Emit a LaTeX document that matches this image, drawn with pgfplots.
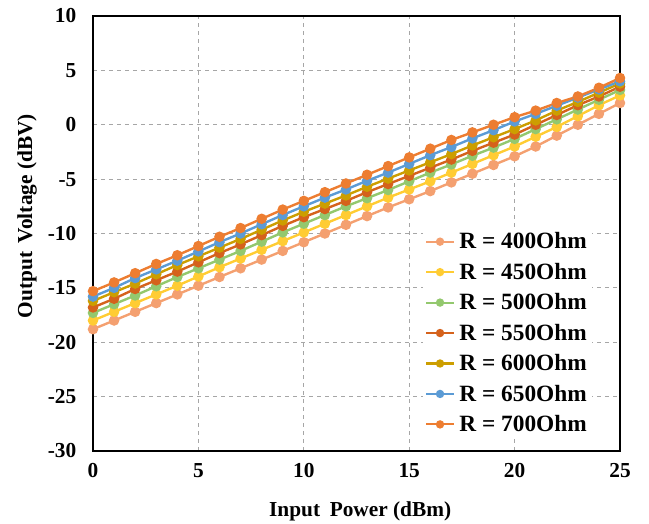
\documentclass[border=0pt]{standalone}
\usepackage{pgfplots}
\pgfplotsset{compat=1.18}
\usepackage{fontspec}
\setmainfont{Liberation Serif}
\definecolor{c400}{HTML}{F4A070}
\definecolor{c450}{HTML}{FFCC33}
\definecolor{c500}{HTML}{93C86E}
\definecolor{c550}{HTML}{D5621C}
\definecolor{c600}{HTML}{CC9E00}
\definecolor{c650}{HTML}{5B9BD5}
\definecolor{c700}{HTML}{ED7D31}
\begin{document}
\begin{tikzpicture}
\begin{axis}[
  scale only axis,
  width=395.25pt, height=326.25pt,
  xmin=0, xmax=25, ymin=-30, ymax=10,
  xtick={0,5,...,25}, ytick={-30,-25,...,10},
  major tick length=0pt,
  axis line style={line width=1.4pt},
  grid=major,
  major grid style={dashed, gray!70, line width=0.6pt},
  font=\fontsize{16}{19}\selectfont\bfseries,
  /pgf/number format/assume math mode=true,
  ticklabel style={font=\fontsize{16}{19}\selectfont\bfseries},
  yticklabel style={xshift=-9pt},
  xticklabel style={yshift=-6pt},
  xlabel={Input\hspace{0.45em}Power (dBm)},
  ylabel={Output\hspace{0.4em}Voltage (dBV)},
  every axis x label/.style={at={(axis description cs:0.507,0)}, anchor=center, yshift=-45pt},
  every axis y label/.style={at={(axis description cs:-0.125,0.54)}, anchor=center, rotate=90},
  legend style={at={(rel axis cs:0.625,0.515)}, anchor=north west, draw=none, fill=white,
    font=\fontsize{17.5}{20}\selectfont\bfseries, row sep=5.2pt, column sep=1.5pt, inner sep=2pt},
  legend cell align=left,
  legend image code/.code={
    \draw[#1, mark=none, line width=1.6pt] (0cm,0cm) -- (0.72cm,0cm);
    \draw[#1, line width=1.6pt, mark size=2.3pt] plot coordinates {(0.36cm,0cm)};
  },
  every axis plot/.append style={line width=1.8pt, mark=*, mark size=3pt},
]
\addplot[color=c400, mark options={fill=c400, draw=c400}] coordinates {
(0,-18.8)(1,-18.0)(2,-17.2)(3,-16.4)(4,-15.6)(5,-14.8)(6,-14.0)(7,-13.2)(8,-12.4)(9,-11.6)
(10,-10.8)(11,-10.0)(12,-9.2)(13,-8.4)(14,-7.6)(15,-6.85)(16,-6.1)(17,-5.3)(18,-4.5)(19,-3.7)
(20,-2.9)(21,-2.0)(22,-1.0)(23,0.0)(24,1.0)(25,2.0)};
\addlegendentry{R = 400Ohm}
\addplot[color=c450, mark options={fill=c450, draw=c450}] coordinates {
(0,-18.0)(1,-17.2)(2,-16.4)(3,-15.6)(4,-14.8)(5,-13.95)(6,-13.1)(7,-12.3)(8,-11.5)(9,-10.7)
(10,-9.9)(11,-9.1)(12,-8.3)(13,-7.5)(14,-6.7)(15,-5.95)(16,-5.2)(17,-4.4)(18,-3.6)(19,-2.8)
(20,-2.0)(21,-1.1)(22,-0.2)(23,0.8)(24,1.8)(25,2.7)};
\addlegendentry{R = 450Ohm}
\addplot[color=c500, mark options={fill=c500, draw=c500}] coordinates {
(0,-17.3)(1,-16.5)(2,-15.7)(3,-14.85)(4,-14.0)(5,-13.2)(6,-12.4)(7,-11.6)(8,-10.75)(9,-9.9)
(10,-9.1)(11,-8.3)(12,-7.5)(13,-6.75)(14,-6.0)(15,-5.2)(16,-4.4)(17,-3.65)(18,-2.85)(19,-2.1)
(20,-1.3)(21,-0.4)(22,0.5)(23,1.4)(24,2.3)(25,3.2)};
\addlegendentry{R = 500Ohm}
\addplot[color=c550, mark options={fill=c550, draw=c550}] coordinates {
(0,-16.8)(1,-16.0)(2,-15.1)(3,-14.3)(4,-13.5)(5,-12.65)(6,-11.8)(7,-11.0)(8,-10.15)(9,-9.3)
(10,-8.5)(11,-7.75)(12,-7.0)(13,-6.2)(14,-5.45)(15,-4.7)(16,-3.95)(17,-3.2)(18,-2.4)(19,-1.65)
(20,-0.9)(21,0.0)(22,0.9)(23,1.8)(24,2.6)(25,3.5)};
\addlegendentry{R = 550Ohm}
\addplot[color=c600, mark options={fill=c600, draw=c600}] coordinates {
(0,-16.2)(1,-15.4)(2,-14.6)(3,-13.75)(4,-12.9)(5,-12.1)(6,-11.3)(7,-10.5)(8,-9.65)(9,-8.8)
(10,-8.0)(11,-7.25)(12,-6.5)(13,-5.7)(14,-4.95)(15,-4.2)(16,-3.45)(17,-2.7)(18,-1.9)(19,-1.15)
(20,-0.4)(21,0.4)(22,1.3)(23,2.1)(24,2.95)(25,3.8)};
\addlegendentry{R = 600Ohm}
\addplot[color=c650, mark options={fill=c650, draw=c650}] coordinates {
(0,-15.8)(1,-15.0)(2,-14.1)(3,-13.3)(4,-12.5)(5,-11.65)(6,-10.8)(7,-10.0)(8,-9.15)(9,-8.3)
(10,-7.5)(11,-6.7)(12,-5.95)(13,-5.15)(14,-4.4)(15,-3.6)(16,-2.8)(17,-2.05)(18,-1.25)(19,-0.5)
(20,0.3)(21,1.0)(22,1.75)(23,2.5)(24,3.25)(25,4.0)};
\addlegendentry{R = 650Ohm}
\addplot[color=c700, mark options={fill=c700, draw=c700}] coordinates {
(0,-15.3)(1,-14.5)(2,-13.65)(3,-12.8)(4,-12.0)(5,-11.15)(6,-10.3)(7,-9.5)(8,-8.65)(9,-7.8)
(10,-7.0)(11,-6.2)(12,-5.4)(13,-4.6)(14,-3.8)(15,-3.0)(16,-2.2)(17,-1.4)(18,-0.7)(19,0.0)
(20,0.7)(21,1.3)(22,2.0)(23,2.6)(24,3.4)(25,4.3)};
\addlegendentry{R = 700Ohm}
\end{axis}
\pgfresetboundingbox
\path ([xshift=-69.75pt,yshift=-54.75pt]current axis.south west) rectangle ([xshift=21.75pt,yshift=12pt]current axis.north east);
\end{tikzpicture}
\end{document}
